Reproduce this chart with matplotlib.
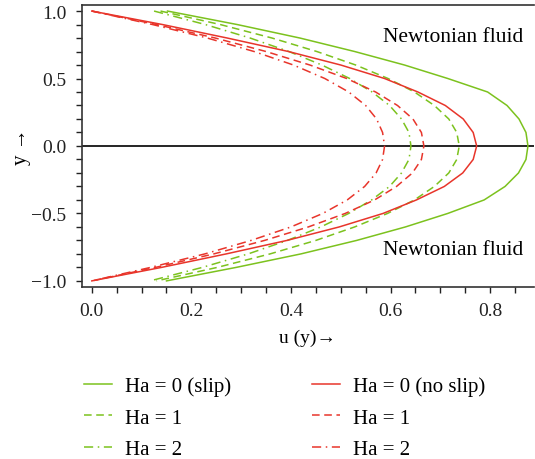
import numpy as np
import matplotlib.pyplot as plt
from matplotlib.ticker import MultipleLocator

plt.rcParams['font.family'] = ['Liberation Serif', 'DejaVu Serif']

# y positions across the channel
y = [1.0, 0.9, 0.8, 0.7, 0.6, 0.5, 0.4, 0.3, 0.2, 0.1, 0.0,
     -0.1, -0.2, -0.3, -0.4, -0.5, -0.6, -0.7, -0.8, -0.9, -1.0]

# velocity profiles, slip case
u_slip_ha0 = [0.152, 0.292, 0.418, 0.528, 0.628, 0.715, 0.795, 0.834, 0.858, 0.872, 0.876,
              0.872, 0.857, 0.830, 0.788, 0.715, 0.630, 0.532, 0.420, 0.290, 0.150]
u_slip_ha1 = [0.138, 0.258, 0.362, 0.452, 0.530, 0.595, 0.648, 0.688, 0.717, 0.733, 0.738,
              0.733, 0.717, 0.688, 0.648, 0.594, 0.528, 0.450, 0.358, 0.252, 0.130]
u_slip_ha2 = [0.125, 0.228, 0.318, 0.396, 0.462, 0.518, 0.563, 0.598, 0.622, 0.637, 0.641,
              0.637, 0.622, 0.598, 0.562, 0.516, 0.460, 0.393, 0.314, 0.222, 0.117]

# velocity profiles, no-slip case
u_noslip_ha0 = [0.000, 0.142, 0.272, 0.395, 0.500, 0.588, 0.655, 0.710, 0.746, 0.766, 0.773,
                0.766, 0.745, 0.708, 0.652, 0.585, 0.497, 0.392, 0.270, 0.140, 0.000]
u_noslip_ha1 = [0.000, 0.130, 0.248, 0.350, 0.438, 0.512, 0.570, 0.614, 0.645, 0.662, 0.667,
                0.662, 0.644, 0.612, 0.568, 0.509, 0.435, 0.347, 0.245, 0.128, 0.000]
u_noslip_ha2 = [0.000, 0.122, 0.232, 0.326, 0.405, 0.468, 0.516, 0.550, 0.572, 0.584, 0.588,
                0.584, 0.571, 0.548, 0.513, 0.464, 0.400, 0.320, 0.227, 0.118, 0.000]

green = "#7cc21e"
red = "#e8352b"
dash = (0, (5, 3))
dashdot = (0, (6, 3, 1, 3))

fig = plt.figure(figsize=(5.35, 4.6), dpi=100)
ax = fig.add_axes([0.153, 0.374, 0.845, 0.613])

ax.axhline(0, color="black", linewidth=1.2, zorder=1)

h1, = ax.plot(u_slip_ha0, y, color=green, linewidth=1.1, label="Ha = 0 (slip)")
h2, = ax.plot(u_slip_ha1, y, color=green, linewidth=1.1, linestyle=dash, label="Ha = 1")
h3, = ax.plot(u_slip_ha2, y, color=green, linewidth=1.1, linestyle=dashdot, label="Ha = 2")
h4, = ax.plot(u_noslip_ha0, y, color=red, linewidth=1.1, label="Ha = 0 (no slip)")
h5, = ax.plot(u_noslip_ha1, y, color=red, linewidth=1.1, linestyle=dash, label="Ha = 1")
h6, = ax.plot(u_noslip_ha2, y, color=red, linewidth=1.1, linestyle=dashdot, label="Ha = 2")

ax.text(0.726, 0.81, "Newtonian fluid", fontsize=15.5, ha="center", va="center")
ax.text(0.726, -0.77, "Newtonian fluid", fontsize=15.5, ha="center", va="center")

ax.set_xlim(-0.02, 0.888)
ax.set_ylim(-1.045, 1.045)
ax.xaxis.set_major_locator(MultipleLocator(0.2))
ax.xaxis.set_minor_locator(MultipleLocator(0.05))
ax.yaxis.set_major_locator(MultipleLocator(0.5))
ax.yaxis.set_minor_locator(MultipleLocator(0.1))
ax.tick_params(which="both", direction="out", width=1.0, labelsize=14, colors="#222222")
ax.tick_params(which="major", length=4)
ax.tick_params(which="minor", length=4)
ax.tick_params(axis="y", pad=7)
ax.tick_params(axis="x", pad=7)
ax.spines["right"].set_visible(False)
for s in ["left", "top", "bottom"]:
    ax.spines[s].set_linewidth(1.2)
    ax.spines[s].set_color("#333333")

ax.set_xlabel("u (y)\u2192", fontsize=14, labelpad=7)
ax.set_ylabel("y \u2192", fontsize=15)
ax.yaxis.set_label_coords(-0.112, 0.5)

fig.legend(handles=[h1, h2, h3, h4, h5, h6], ncol=2, loc="upper left",
           bbox_to_anchor=(0.157, 0.18), frameon=False, fontsize=15,
           handlelength=1.35, handletextpad=0.6, columnspacing=3.9,
           labelspacing=0.58, borderpad=0, borderaxespad=0)

fig.savefig("out.png", dpi=100)
